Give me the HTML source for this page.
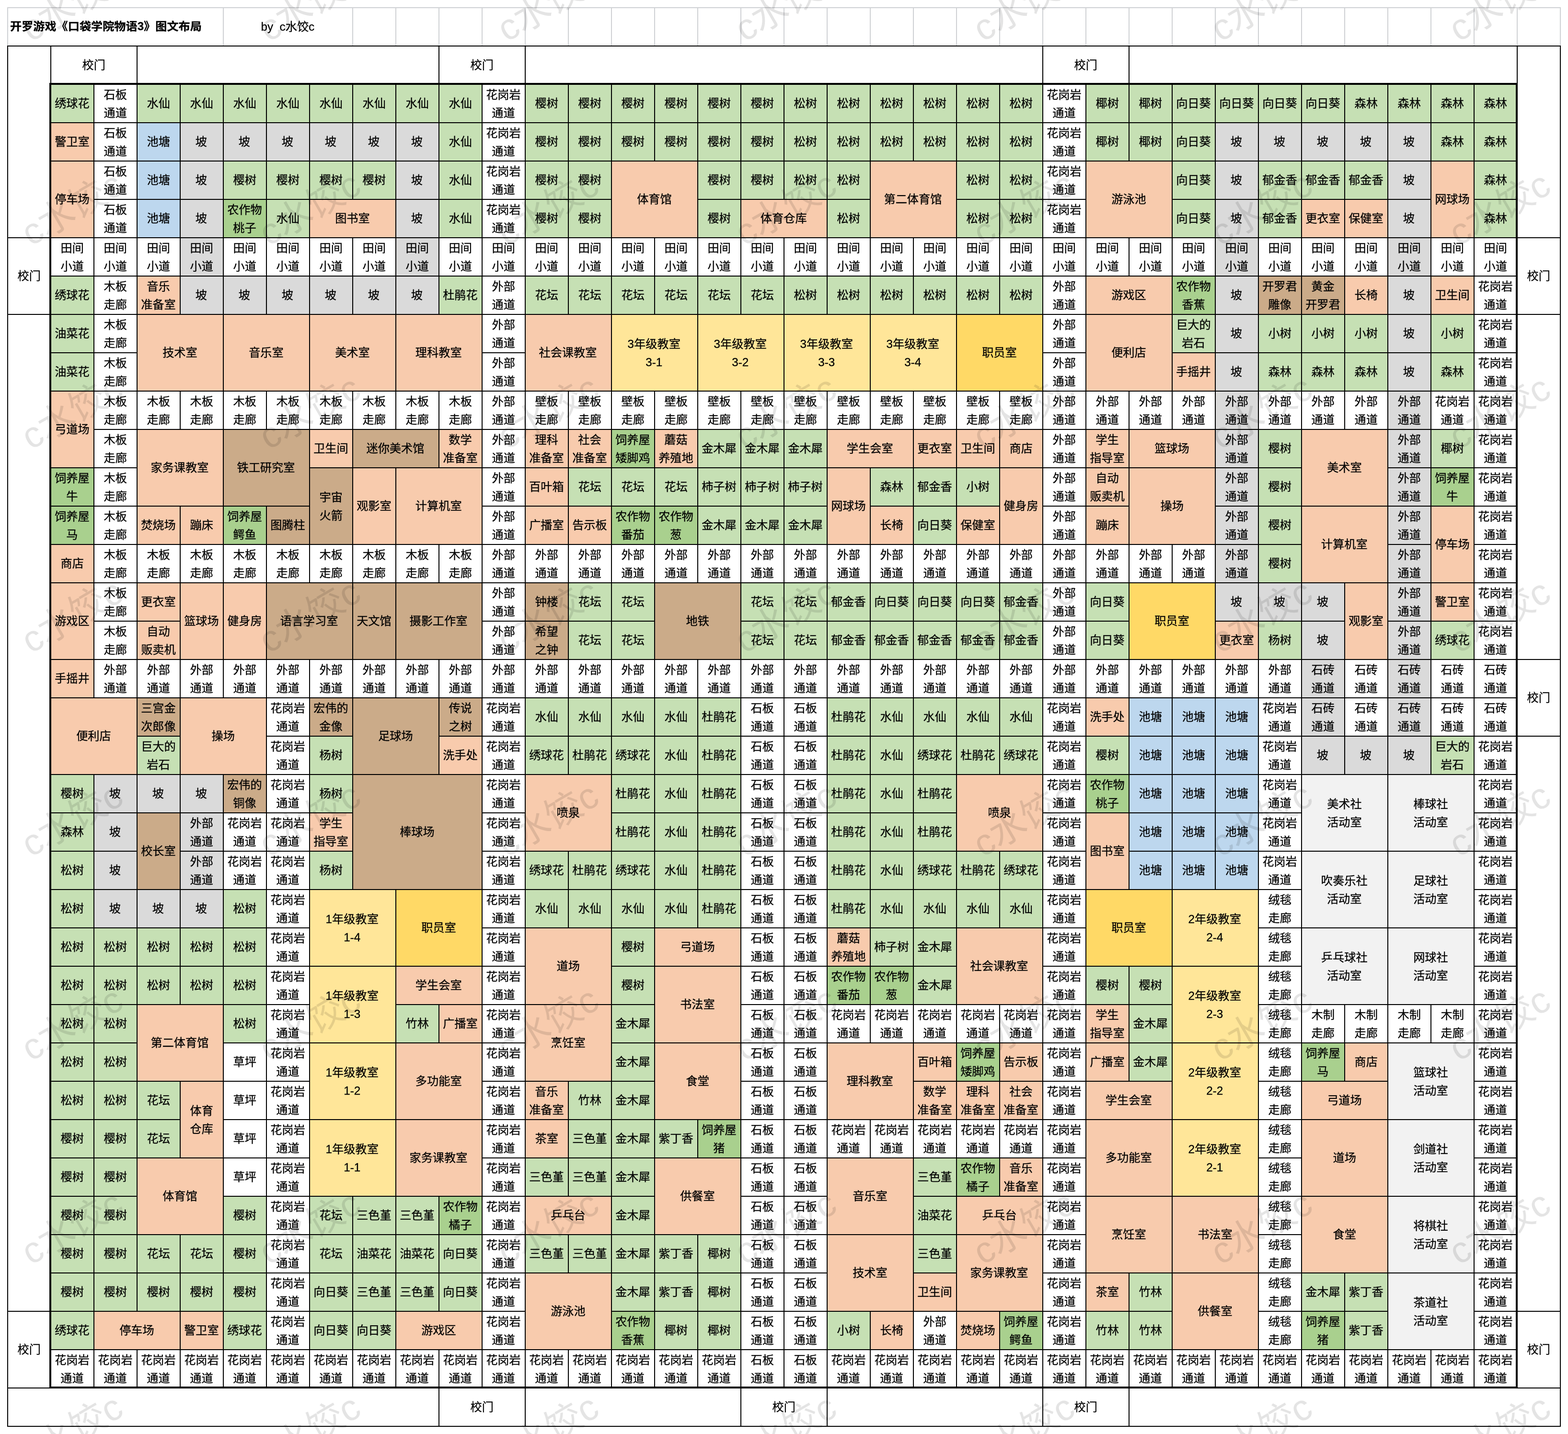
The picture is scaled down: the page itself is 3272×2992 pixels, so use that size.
<!DOCTYPE html>
<html lang="zh-CN"><head><meta charset="utf-8"><title>开罗游戏《口袋学院物语3》图文布局</title>
<style>
html,body{margin:0;padding:0;background:#fff}
body{width:3272px;height:2992px;position:relative;overflow:hidden;font-family:"Liberation Sans","Noto Sans CJK SC",sans-serif;font-size:23.5px;line-height:38.4px;color:#000;-webkit-text-stroke:0.3px #000}
#m{position:absolute;left:0;top:0;width:3272px;height:2992px;overflow:hidden}
.c{position:absolute;box-sizing:border-box;border:2px solid #000;width:92px;height:82px;display:flex;align-items:center;justify-content:center;text-align:center;white-space:nowrap;background:#fff}
.c span{display:block;transform:translate(-0.8px,-0.5px) scaleX(1.03)}
.c .m{transform:translate(-0.8px,1px) scaleX(1.03)}
.G{background:#c6e0b4}
.D{background:#a9d08e}
.O{background:#f8cbad}
.B{background:#bdd7ee}
.Y{background:#dadada}
.L{background:#ffe699}
.K{background:#ffd966}
.N{background:#cbab89}
.E{background:#f2f2f2}
.x0{left:15px}
.x1{left:105px}
.x2{left:195px}
.x3{left:285px}
.x4{left:375px}
.x5{left:465px}
.x6{left:555px}
.x7{left:645px}
.x8{left:735px}
.x9{left:825px}
.x10{left:915px}
.x11{left:1005px}
.x12{left:1095px}
.x13{left:1185px}
.x14{left:1275px}
.x15{left:1365px}
.x16{left:1455px}
.x17{left:1545px}
.x18{left:1635px}
.x19{left:1725px}
.x20{left:1815px}
.x21{left:1905px}
.x22{left:1995px}
.x23{left:2085px}
.x24{left:2175px}
.x25{left:2265px}
.x26{left:2355px}
.x27{left:2445px}
.x28{left:2535px}
.x29{left:2625px}
.x30{left:2715px}
.x31{left:2805px}
.x32{left:2895px}
.x33{left:2985px}
.x34{left:3075px}
.x35{left:3165px}
.y0{top:15px}
.y1{top:95px}
.y2{top:175px}
.y3{top:255px}
.y4{top:335px}
.y5{top:415px}
.y6{top:495px}
.y7{top:575px}
.y8{top:655px}
.y9{top:735px}
.y10{top:815px}
.y11{top:895px}
.y12{top:975px}
.y13{top:1055px}
.y14{top:1135px}
.y15{top:1215px}
.y16{top:1295px}
.y17{top:1375px}
.y18{top:1455px}
.y19{top:1535px}
.y20{top:1615px}
.y21{top:1695px}
.y22{top:1775px}
.y23{top:1855px}
.y24{top:1935px}
.y25{top:2015px}
.y26{top:2095px}
.y27{top:2175px}
.y28{top:2255px}
.y29{top:2335px}
.y30{top:2415px}
.y31{top:2495px}
.y32{top:2575px}
.y33{top:2655px}
.y34{top:2735px}
.y35{top:2815px}
.y36{top:2895px}
.w2{width:182px}
.w3{width:272px}
.w5{width:452px}
.w7{width:632px}
.w9{width:812px}
.w10{width:902px}
.w12{width:1082px}
.h2{height:162px}
.h3{height:242px}
.h5{height:402px}
.h9{height:722px}
.h15{height:1202px}
.h26{height:2082px}
.t{border-color:#cfd1d4}
.tt{justify-content:flex-start;font-weight:bold;padding-left:4px;font-size:23px}
.tt span{transform-origin:0 50%;transform:translate(0,-1.5px) scaleX(1.05)}
.f{position:absolute;box-sizing:border-box;border:4px solid #000;left:103px;top:173px;width:3064px;height:2724px;pointer-events:none}
.wm{position:absolute;width:400px;height:120px;margin:-60px 0 0 -200px;line-height:120px;text-align:center;font-size:76px;color:rgba(0,0,0,0.105);-webkit-text-stroke:0;transform:rotate(-30deg);white-space:nowrap;pointer-events:none}
</style></head>
<body>
<div id="m">
<div class="c t tt x0 y0 w5"><span>开罗游戏《口袋学院物语3》图文布局</span></div>
<div class="c t x5 y0 w3"><span>by&nbsp; c水饺c</span></div>
<div class="c t x8 y0"></div>
<div class="c t x9 y0"></div>
<div class="c t x10 y0"></div>
<div class="c t x11 y0"></div>
<div class="c t x12 y0"></div>
<div class="c t x13 y0"></div>
<div class="c t x14 y0"></div>
<div class="c t x15 y0"></div>
<div class="c t x16 y0"></div>
<div class="c t x17 y0"></div>
<div class="c t x18 y0"></div>
<div class="c t x19 y0"></div>
<div class="c t x20 y0"></div>
<div class="c t x21 y0"></div>
<div class="c t x22 y0"></div>
<div class="c t x23 y0"></div>
<div class="c t x24 y0"></div>
<div class="c t x25 y0"></div>
<div class="c t x26 y0"></div>
<div class="c t x27 y0"></div>
<div class="c t x28 y0"></div>
<div class="c t x29 y0"></div>
<div class="c t x30 y0"></div>
<div class="c t x31 y0"></div>
<div class="c t x32 y0"></div>
<div class="c t x33 y0"></div>
<div class="c t x34 y0"></div>
<div class="c t x35 y0"></div>
<div class="c x0 y1 h5"></div>
<div class="c x0 y6 h2"><span>校门</span></div>
<div class="c x0 y8 h26"></div>
<div class="c x0 y34 h2"><span>校门</span></div>
<div class="c x35 y1 h5"></div>
<div class="c x35 y6 h2"><span>校门</span></div>
<div class="c x35 y8 h9"></div>
<div class="c x35 y17 h2"><span>校门</span></div>
<div class="c x35 y19 h15"></div>
<div class="c x35 y34 h2"><span>校门</span></div>
<div class="c x1 y1 w2"><span>校门</span></div>
<div class="c x3 y1 w7"></div>
<div class="c x10 y1 w2"><span>校门</span></div>
<div class="c x12 y1 w12"></div>
<div class="c x24 y1 w2"><span>校门</span></div>
<div class="c x26 y1 w9"></div>
<div class="c x0 y36 w10"></div>
<div class="c x10 y36 w2"><span>校门</span></div>
<div class="c x12 y36 w5"></div>
<div class="c x17 y36 w2"><span>校门</span></div>
<div class="c x19 y36 w5"></div>
<div class="c x24 y36 w2"><span>校门</span></div>
<div class="c x26 y36 w10"></div>
<div class="c G x1 y2"><span>绣球花</span></div>
<div class="c x2 y2"><span class="m">石板<br>通道</span></div>
<div class="c G x3 y2"><span>水仙</span></div>
<div class="c G x4 y2"><span>水仙</span></div>
<div class="c G x5 y2"><span>水仙</span></div>
<div class="c G x6 y2"><span>水仙</span></div>
<div class="c G x7 y2"><span>水仙</span></div>
<div class="c G x8 y2"><span>水仙</span></div>
<div class="c G x9 y2"><span>水仙</span></div>
<div class="c G x10 y2"><span>水仙</span></div>
<div class="c x11 y2"><span class="m">花岗岩<br>通道</span></div>
<div class="c G x12 y2"><span>樱树</span></div>
<div class="c G x13 y2"><span>樱树</span></div>
<div class="c G x14 y2"><span>樱树</span></div>
<div class="c G x15 y2"><span>樱树</span></div>
<div class="c G x16 y2"><span>樱树</span></div>
<div class="c G x17 y2"><span>樱树</span></div>
<div class="c G x18 y2"><span>松树</span></div>
<div class="c G x19 y2"><span>松树</span></div>
<div class="c G x20 y2"><span>松树</span></div>
<div class="c G x21 y2"><span>松树</span></div>
<div class="c G x22 y2"><span>松树</span></div>
<div class="c G x23 y2"><span>松树</span></div>
<div class="c x24 y2"><span class="m">花岗岩<br>通道</span></div>
<div class="c G x25 y2"><span>椰树</span></div>
<div class="c G x26 y2"><span>椰树</span></div>
<div class="c G x27 y2"><span>向日葵</span></div>
<div class="c G x28 y2"><span>向日葵</span></div>
<div class="c G x29 y2"><span>向日葵</span></div>
<div class="c G x30 y2"><span>向日葵</span></div>
<div class="c G x31 y2"><span>森林</span></div>
<div class="c G x32 y2"><span>森林</span></div>
<div class="c G x33 y2"><span>森林</span></div>
<div class="c G x34 y2"><span>森林</span></div>
<div class="c O x1 y3"><span>警卫室</span></div>
<div class="c x2 y3"><span class="m">石板<br>通道</span></div>
<div class="c B x3 y3"><span>池塘</span></div>
<div class="c Y x4 y3"><span>坡</span></div>
<div class="c Y x5 y3"><span>坡</span></div>
<div class="c Y x6 y3"><span>坡</span></div>
<div class="c Y x7 y3"><span>坡</span></div>
<div class="c Y x8 y3"><span>坡</span></div>
<div class="c Y x9 y3"><span>坡</span></div>
<div class="c G x10 y3"><span>水仙</span></div>
<div class="c x11 y3"><span class="m">花岗岩<br>通道</span></div>
<div class="c G x12 y3"><span>樱树</span></div>
<div class="c G x13 y3"><span>樱树</span></div>
<div class="c G x14 y3"><span>樱树</span></div>
<div class="c G x15 y3"><span>樱树</span></div>
<div class="c G x16 y3"><span>樱树</span></div>
<div class="c G x17 y3"><span>樱树</span></div>
<div class="c G x18 y3"><span>松树</span></div>
<div class="c G x19 y3"><span>松树</span></div>
<div class="c G x20 y3"><span>松树</span></div>
<div class="c G x21 y3"><span>松树</span></div>
<div class="c G x22 y3"><span>松树</span></div>
<div class="c G x23 y3"><span>松树</span></div>
<div class="c x24 y3"><span class="m">花岗岩<br>通道</span></div>
<div class="c G x25 y3"><span>椰树</span></div>
<div class="c G x26 y3"><span>椰树</span></div>
<div class="c G x27 y3"><span>向日葵</span></div>
<div class="c Y x28 y3"><span>坡</span></div>
<div class="c Y x29 y3"><span>坡</span></div>
<div class="c Y x30 y3"><span>坡</span></div>
<div class="c Y x31 y3"><span>坡</span></div>
<div class="c Y x32 y3"><span>坡</span></div>
<div class="c G x33 y3"><span>森林</span></div>
<div class="c G x34 y3"><span>森林</span></div>
<div class="c O x1 y4 h2"><span>停车场</span></div>
<div class="c x2 y4"><span class="m">石板<br>通道</span></div>
<div class="c B x3 y4"><span>池塘</span></div>
<div class="c Y x4 y4"><span>坡</span></div>
<div class="c G x5 y4"><span>樱树</span></div>
<div class="c G x6 y4"><span>樱树</span></div>
<div class="c G x7 y4"><span>樱树</span></div>
<div class="c G x8 y4"><span>樱树</span></div>
<div class="c Y x9 y4"><span>坡</span></div>
<div class="c G x10 y4"><span>水仙</span></div>
<div class="c x11 y4"><span class="m">花岗岩<br>通道</span></div>
<div class="c G x12 y4"><span>樱树</span></div>
<div class="c G x13 y4"><span>樱树</span></div>
<div class="c O x14 y4 w2 h2"><span>体育馆</span></div>
<div class="c G x16 y4"><span>樱树</span></div>
<div class="c G x17 y4"><span>樱树</span></div>
<div class="c G x18 y4"><span>松树</span></div>
<div class="c G x19 y4"><span>松树</span></div>
<div class="c O x20 y4 w2 h2"><span>第二体育馆</span></div>
<div class="c G x22 y4"><span>松树</span></div>
<div class="c G x23 y4"><span>松树</span></div>
<div class="c x24 y4"><span class="m">花岗岩<br>通道</span></div>
<div class="c O x25 y4 w2 h2"><span>游泳池</span></div>
<div class="c G x27 y4"><span>向日葵</span></div>
<div class="c Y x28 y4"><span>坡</span></div>
<div class="c G x29 y4"><span>郁金香</span></div>
<div class="c G x30 y4"><span>郁金香</span></div>
<div class="c G x31 y4"><span>郁金香</span></div>
<div class="c Y x32 y4"><span>坡</span></div>
<div class="c O x33 y4 h2"><span>网球场</span></div>
<div class="c G x34 y4"><span>森林</span></div>
<div class="c x2 y5"><span class="m">石板<br>通道</span></div>
<div class="c B x3 y5"><span>池塘</span></div>
<div class="c Y x4 y5"><span>坡</span></div>
<div class="c D x5 y5"><span class="m">农作物<br>桃子</span></div>
<div class="c G x6 y5"><span>水仙</span></div>
<div class="c O x7 y5 w2"><span>图书室</span></div>
<div class="c Y x9 y5"><span>坡</span></div>
<div class="c G x10 y5"><span>水仙</span></div>
<div class="c x11 y5"><span class="m">花岗岩<br>通道</span></div>
<div class="c G x12 y5"><span>樱树</span></div>
<div class="c G x13 y5"><span>樱树</span></div>
<div class="c G x16 y5"><span>樱树</span></div>
<div class="c O x17 y5 w2"><span>体育仓库</span></div>
<div class="c G x19 y5"><span>松树</span></div>
<div class="c G x22 y5"><span>松树</span></div>
<div class="c G x23 y5"><span>松树</span></div>
<div class="c x24 y5"><span class="m">花岗岩<br>通道</span></div>
<div class="c G x27 y5"><span>向日葵</span></div>
<div class="c Y x28 y5"><span>坡</span></div>
<div class="c G x29 y5"><span>郁金香</span></div>
<div class="c O x30 y5"><span>更衣室</span></div>
<div class="c O x31 y5"><span>保健室</span></div>
<div class="c Y x32 y5"><span>坡</span></div>
<div class="c G x34 y5"><span>森林</span></div>
<div class="c x1 y6"><span class="m">田间<br>小道</span></div>
<div class="c x2 y6"><span class="m">田间<br>小道</span></div>
<div class="c x3 y6"><span class="m">田间<br>小道</span></div>
<div class="c Y x4 y6"><span class="m">田间<br>小道</span></div>
<div class="c x5 y6"><span class="m">田间<br>小道</span></div>
<div class="c x6 y6"><span class="m">田间<br>小道</span></div>
<div class="c x7 y6"><span class="m">田间<br>小道</span></div>
<div class="c x8 y6"><span class="m">田间<br>小道</span></div>
<div class="c Y x9 y6"><span class="m">田间<br>小道</span></div>
<div class="c x10 y6"><span class="m">田间<br>小道</span></div>
<div class="c x11 y6"><span class="m">田间<br>小道</span></div>
<div class="c x12 y6"><span class="m">田间<br>小道</span></div>
<div class="c x13 y6"><span class="m">田间<br>小道</span></div>
<div class="c x14 y6"><span class="m">田间<br>小道</span></div>
<div class="c x15 y6"><span class="m">田间<br>小道</span></div>
<div class="c x16 y6"><span class="m">田间<br>小道</span></div>
<div class="c x17 y6"><span class="m">田间<br>小道</span></div>
<div class="c x18 y6"><span class="m">田间<br>小道</span></div>
<div class="c x19 y6"><span class="m">田间<br>小道</span></div>
<div class="c x20 y6"><span class="m">田间<br>小道</span></div>
<div class="c x21 y6"><span class="m">田间<br>小道</span></div>
<div class="c x22 y6"><span class="m">田间<br>小道</span></div>
<div class="c x23 y6"><span class="m">田间<br>小道</span></div>
<div class="c x24 y6"><span class="m">田间<br>小道</span></div>
<div class="c x25 y6"><span class="m">田间<br>小道</span></div>
<div class="c x26 y6"><span class="m">田间<br>小道</span></div>
<div class="c x27 y6"><span class="m">田间<br>小道</span></div>
<div class="c Y x28 y6"><span class="m">田间<br>小道</span></div>
<div class="c x29 y6"><span class="m">田间<br>小道</span></div>
<div class="c x30 y6"><span class="m">田间<br>小道</span></div>
<div class="c x31 y6"><span class="m">田间<br>小道</span></div>
<div class="c Y x32 y6"><span class="m">田间<br>小道</span></div>
<div class="c x33 y6"><span class="m">田间<br>小道</span></div>
<div class="c x34 y6"><span class="m">田间<br>小道</span></div>
<div class="c G x1 y7"><span>绣球花</span></div>
<div class="c x2 y7"><span class="m">木板<br>走廊</span></div>
<div class="c O x3 y7"><span class="m">音乐<br>准备室</span></div>
<div class="c Y x4 y7"><span>坡</span></div>
<div class="c Y x5 y7"><span>坡</span></div>
<div class="c Y x6 y7"><span>坡</span></div>
<div class="c Y x7 y7"><span>坡</span></div>
<div class="c Y x8 y7"><span>坡</span></div>
<div class="c Y x9 y7"><span>坡</span></div>
<div class="c G x10 y7"><span>杜鹃花</span></div>
<div class="c x11 y7"><span class="m">外部<br>通道</span></div>
<div class="c G x12 y7"><span>花坛</span></div>
<div class="c G x13 y7"><span>花坛</span></div>
<div class="c G x14 y7"><span>花坛</span></div>
<div class="c G x15 y7"><span>花坛</span></div>
<div class="c G x16 y7"><span>花坛</span></div>
<div class="c G x17 y7"><span>花坛</span></div>
<div class="c G x18 y7"><span>松树</span></div>
<div class="c G x19 y7"><span>松树</span></div>
<div class="c G x20 y7"><span>松树</span></div>
<div class="c G x21 y7"><span>松树</span></div>
<div class="c G x22 y7"><span>松树</span></div>
<div class="c G x23 y7"><span>松树</span></div>
<div class="c x24 y7"><span class="m">外部<br>通道</span></div>
<div class="c O x25 y7 w2"><span>游戏区</span></div>
<div class="c D x27 y7"><span class="m">农作物<br>香蕉</span></div>
<div class="c Y x28 y7"><span>坡</span></div>
<div class="c N x29 y7"><span class="m">开罗君<br>雕像</span></div>
<div class="c N x30 y7"><span class="m">黄金<br>开罗君</span></div>
<div class="c O x31 y7"><span>长椅</span></div>
<div class="c Y x32 y7"><span>坡</span></div>
<div class="c O x33 y7"><span>卫生间</span></div>
<div class="c x34 y7"><span class="m">花岗岩<br>通道</span></div>
<div class="c G x1 y8"><span>油菜花</span></div>
<div class="c x2 y8"><span class="m">木板<br>走廊</span></div>
<div class="c O x3 y8 w2 h2"><span>技术室</span></div>
<div class="c O x5 y8 w2 h2"><span>音乐室</span></div>
<div class="c O x7 y8 w2 h2"><span>美术室</span></div>
<div class="c O x9 y8 w2 h2"><span>理科教室</span></div>
<div class="c x11 y8"><span class="m">外部<br>通道</span></div>
<div class="c O x12 y8 w2 h2"><span>社会课教室</span></div>
<div class="c L x14 y8 w2 h2"><span class="m">3年级教室<br>3-1</span></div>
<div class="c L x16 y8 w2 h2"><span class="m">3年级教室<br>3-2</span></div>
<div class="c L x18 y8 w2 h2"><span class="m">3年级教室<br>3-3</span></div>
<div class="c L x20 y8 w2 h2"><span class="m">3年级教室<br>3-4</span></div>
<div class="c K x22 y8 w2 h2"><span>职员室</span></div>
<div class="c x24 y8"><span class="m">外部<br>通道</span></div>
<div class="c O x25 y8 w2 h2"><span>便利店</span></div>
<div class="c G x27 y8"><span class="m">巨大的<br>岩石</span></div>
<div class="c Y x28 y8"><span>坡</span></div>
<div class="c G x29 y8"><span>小树</span></div>
<div class="c G x30 y8"><span>小树</span></div>
<div class="c G x31 y8"><span>小树</span></div>
<div class="c Y x32 y8"><span>坡</span></div>
<div class="c G x33 y8"><span>小树</span></div>
<div class="c x34 y8"><span class="m">花岗岩<br>通道</span></div>
<div class="c G x1 y9"><span>油菜花</span></div>
<div class="c x2 y9"><span class="m">木板<br>走廊</span></div>
<div class="c x11 y9"><span class="m">外部<br>通道</span></div>
<div class="c x24 y9"><span class="m">外部<br>通道</span></div>
<div class="c O x27 y9"><span>手摇井</span></div>
<div class="c Y x28 y9"><span>坡</span></div>
<div class="c G x29 y9"><span>森林</span></div>
<div class="c G x30 y9"><span>森林</span></div>
<div class="c G x31 y9"><span>森林</span></div>
<div class="c Y x32 y9"><span>坡</span></div>
<div class="c G x33 y9"><span>森林</span></div>
<div class="c x34 y9"><span class="m">花岗岩<br>通道</span></div>
<div class="c O x1 y10 h2"><span>弓道场</span></div>
<div class="c x2 y10"><span class="m">木板<br>走廊</span></div>
<div class="c x3 y10"><span class="m">木板<br>走廊</span></div>
<div class="c x4 y10"><span class="m">木板<br>走廊</span></div>
<div class="c x5 y10"><span class="m">木板<br>走廊</span></div>
<div class="c x6 y10"><span class="m">木板<br>走廊</span></div>
<div class="c x7 y10"><span class="m">木板<br>走廊</span></div>
<div class="c x8 y10"><span class="m">木板<br>走廊</span></div>
<div class="c x9 y10"><span class="m">木板<br>走廊</span></div>
<div class="c x10 y10"><span class="m">木板<br>走廊</span></div>
<div class="c x11 y10"><span class="m">外部<br>通道</span></div>
<div class="c x12 y10"><span class="m">壁板<br>走廊</span></div>
<div class="c x13 y10"><span class="m">壁板<br>走廊</span></div>
<div class="c x14 y10"><span class="m">壁板<br>走廊</span></div>
<div class="c x15 y10"><span class="m">壁板<br>走廊</span></div>
<div class="c x16 y10"><span class="m">壁板<br>走廊</span></div>
<div class="c x17 y10"><span class="m">壁板<br>走廊</span></div>
<div class="c x18 y10"><span class="m">壁板<br>走廊</span></div>
<div class="c x19 y10"><span class="m">壁板<br>走廊</span></div>
<div class="c x20 y10"><span class="m">壁板<br>走廊</span></div>
<div class="c x21 y10"><span class="m">壁板<br>走廊</span></div>
<div class="c x22 y10"><span class="m">壁板<br>走廊</span></div>
<div class="c x23 y10"><span class="m">壁板<br>走廊</span></div>
<div class="c x24 y10"><span class="m">外部<br>通道</span></div>
<div class="c x25 y10"><span class="m">外部<br>通道</span></div>
<div class="c x26 y10"><span class="m">外部<br>通道</span></div>
<div class="c x27 y10"><span class="m">外部<br>通道</span></div>
<div class="c Y x28 y10"><span class="m">外部<br>通道</span></div>
<div class="c x29 y10"><span class="m">外部<br>通道</span></div>
<div class="c x30 y10"><span class="m">外部<br>通道</span></div>
<div class="c x31 y10"><span class="m">外部<br>通道</span></div>
<div class="c Y x32 y10"><span class="m">外部<br>通道</span></div>
<div class="c x33 y10"><span class="m">花岗岩<br>通道</span></div>
<div class="c x34 y10"><span class="m">花岗岩<br>通道</span></div>
<div class="c x2 y11"><span class="m">木板<br>走廊</span></div>
<div class="c O x3 y11 w2 h2"><span>家务课教室</span></div>
<div class="c N x5 y11 w2 h2"><span>铁工研究室</span></div>
<div class="c O x7 y11"><span>卫生间</span></div>
<div class="c N x8 y11 w2"><span>迷你美术馆</span></div>
<div class="c O x10 y11"><span class="m">数学<br>准备室</span></div>
<div class="c x11 y11"><span class="m">外部<br>通道</span></div>
<div class="c O x12 y11"><span class="m">理科<br>准备室</span></div>
<div class="c O x13 y11"><span class="m">社会<br>准备室</span></div>
<div class="c D x14 y11"><span class="m">饲养屋<br>矮脚鸡</span></div>
<div class="c O x15 y11"><span class="m">蘑菇<br>养殖地</span></div>
<div class="c G x16 y11"><span>金木犀</span></div>
<div class="c G x17 y11"><span>金木犀</span></div>
<div class="c G x18 y11"><span>金木犀</span></div>
<div class="c O x19 y11 w2"><span>学生会室</span></div>
<div class="c O x21 y11"><span>更衣室</span></div>
<div class="c O x22 y11"><span>卫生间</span></div>
<div class="c O x23 y11"><span>商店</span></div>
<div class="c x24 y11"><span class="m">外部<br>通道</span></div>
<div class="c O x25 y11"><span class="m">学生<br>指导室</span></div>
<div class="c O x26 y11 w2"><span>篮球场</span></div>
<div class="c Y x28 y11"><span class="m">外部<br>通道</span></div>
<div class="c G x29 y11"><span>樱树</span></div>
<div class="c O x30 y11 w2 h2"><span>美术室</span></div>
<div class="c Y x32 y11"><span class="m">外部<br>通道</span></div>
<div class="c G x33 y11"><span>椰树</span></div>
<div class="c x34 y11"><span class="m">花岗岩<br>通道</span></div>
<div class="c D x1 y12"><span class="m">饲养屋<br>牛</span></div>
<div class="c x2 y12"><span class="m">木板<br>走廊</span></div>
<div class="c N x7 y12 h2"><span class="m">宇宙<br>火箭</span></div>
<div class="c O x8 y12 h2"><span>观影室</span></div>
<div class="c O x9 y12 w2 h2"><span>计算机室</span></div>
<div class="c x11 y12"><span class="m">外部<br>通道</span></div>
<div class="c O x12 y12"><span>百叶箱</span></div>
<div class="c G x13 y12"><span>花坛</span></div>
<div class="c G x14 y12"><span>花坛</span></div>
<div class="c G x15 y12"><span>花坛</span></div>
<div class="c G x16 y12"><span>柿子树</span></div>
<div class="c G x17 y12"><span>柿子树</span></div>
<div class="c G x18 y12"><span>柿子树</span></div>
<div class="c O x19 y12 h2"><span>网球场</span></div>
<div class="c G x20 y12"><span>森林</span></div>
<div class="c G x21 y12"><span>郁金香</span></div>
<div class="c G x22 y12"><span>小树</span></div>
<div class="c O x23 y12 h2"><span>健身房</span></div>
<div class="c x24 y12"><span class="m">外部<br>通道</span></div>
<div class="c O x25 y12"><span class="m">自动<br>贩卖机</span></div>
<div class="c O x26 y12 w2 h2"><span>操场</span></div>
<div class="c Y x28 y12"><span class="m">外部<br>通道</span></div>
<div class="c G x29 y12"><span>樱树</span></div>
<div class="c Y x32 y12"><span class="m">外部<br>通道</span></div>
<div class="c D x33 y12"><span class="m">饲养屋<br>牛</span></div>
<div class="c x34 y12"><span class="m">花岗岩<br>通道</span></div>
<div class="c D x1 y13"><span class="m">饲养屋<br>马</span></div>
<div class="c x2 y13"><span class="m">木板<br>走廊</span></div>
<div class="c O x3 y13"><span>焚烧场</span></div>
<div class="c O x4 y13"><span>蹦床</span></div>
<div class="c D x5 y13"><span class="m">饲养屋<br>鳄鱼</span></div>
<div class="c N x6 y13"><span>图腾柱</span></div>
<div class="c x11 y13"><span class="m">外部<br>通道</span></div>
<div class="c O x12 y13"><span>广播室</span></div>
<div class="c O x13 y13"><span>告示板</span></div>
<div class="c D x14 y13"><span class="m">农作物<br>番茄</span></div>
<div class="c D x15 y13"><span class="m">农作物<br>葱</span></div>
<div class="c G x16 y13"><span>金木犀</span></div>
<div class="c G x17 y13"><span>金木犀</span></div>
<div class="c G x18 y13"><span>金木犀</span></div>
<div class="c O x20 y13"><span>长椅</span></div>
<div class="c G x21 y13"><span>向日葵</span></div>
<div class="c O x22 y13"><span>保健室</span></div>
<div class="c x24 y13"><span class="m">外部<br>通道</span></div>
<div class="c O x25 y13"><span>蹦床</span></div>
<div class="c Y x28 y13"><span class="m">外部<br>通道</span></div>
<div class="c G x29 y13"><span>樱树</span></div>
<div class="c O x30 y13 w2 h2"><span>计算机室</span></div>
<div class="c Y x32 y13"><span class="m">外部<br>通道</span></div>
<div class="c O x33 y13 h2"><span>停车场</span></div>
<div class="c x34 y13"><span class="m">花岗岩<br>通道</span></div>
<div class="c O x1 y14"><span>商店</span></div>
<div class="c x2 y14"><span class="m">木板<br>走廊</span></div>
<div class="c x3 y14"><span class="m">木板<br>走廊</span></div>
<div class="c x4 y14"><span class="m">木板<br>走廊</span></div>
<div class="c x5 y14"><span class="m">木板<br>走廊</span></div>
<div class="c x6 y14"><span class="m">木板<br>走廊</span></div>
<div class="c x7 y14"><span class="m">木板<br>走廊</span></div>
<div class="c x8 y14"><span class="m">木板<br>走廊</span></div>
<div class="c x9 y14"><span class="m">木板<br>走廊</span></div>
<div class="c x10 y14"><span class="m">木板<br>走廊</span></div>
<div class="c x11 y14"><span class="m">外部<br>通道</span></div>
<div class="c x12 y14"><span class="m">外部<br>通道</span></div>
<div class="c x13 y14"><span class="m">外部<br>通道</span></div>
<div class="c x14 y14"><span class="m">外部<br>通道</span></div>
<div class="c x15 y14"><span class="m">外部<br>通道</span></div>
<div class="c x16 y14"><span class="m">外部<br>通道</span></div>
<div class="c x17 y14"><span class="m">外部<br>通道</span></div>
<div class="c x18 y14"><span class="m">外部<br>通道</span></div>
<div class="c x19 y14"><span class="m">外部<br>通道</span></div>
<div class="c x20 y14"><span class="m">外部<br>通道</span></div>
<div class="c x21 y14"><span class="m">外部<br>通道</span></div>
<div class="c x22 y14"><span class="m">外部<br>通道</span></div>
<div class="c x23 y14"><span class="m">外部<br>通道</span></div>
<div class="c x24 y14"><span class="m">外部<br>通道</span></div>
<div class="c x25 y14"><span class="m">外部<br>通道</span></div>
<div class="c x26 y14"><span class="m">外部<br>通道</span></div>
<div class="c x27 y14"><span class="m">外部<br>通道</span></div>
<div class="c Y x28 y14"><span class="m">外部<br>通道</span></div>
<div class="c G x29 y14"><span>樱树</span></div>
<div class="c Y x32 y14"><span class="m">外部<br>通道</span></div>
<div class="c x34 y14"><span class="m">花岗岩<br>通道</span></div>
<div class="c O x1 y15 h2"><span>游戏区</span></div>
<div class="c x2 y15"><span class="m">木板<br>走廊</span></div>
<div class="c O x3 y15"><span>更衣室</span></div>
<div class="c O x4 y15 h2"><span>篮球场</span></div>
<div class="c O x5 y15 h2"><span>健身房</span></div>
<div class="c N x6 y15 w2 h2"><span>语言学习室</span></div>
<div class="c N x8 y15 h2"><span>天文馆</span></div>
<div class="c N x9 y15 w2 h2"><span>摄影工作室</span></div>
<div class="c x11 y15"><span class="m">外部<br>通道</span></div>
<div class="c N x12 y15"><span>钟楼</span></div>
<div class="c G x13 y15"><span>花坛</span></div>
<div class="c G x14 y15"><span>花坛</span></div>
<div class="c N x15 y15 w2 h2"><span>地铁</span></div>
<div class="c G x17 y15"><span>花坛</span></div>
<div class="c G x18 y15"><span>花坛</span></div>
<div class="c G x19 y15"><span>郁金香</span></div>
<div class="c G x20 y15"><span>向日葵</span></div>
<div class="c G x21 y15"><span>向日葵</span></div>
<div class="c G x22 y15"><span>向日葵</span></div>
<div class="c G x23 y15"><span>郁金香</span></div>
<div class="c x24 y15"><span class="m">外部<br>通道</span></div>
<div class="c G x25 y15"><span>向日葵</span></div>
<div class="c K x26 y15 w2 h2"><span>职员室</span></div>
<div class="c Y x28 y15"><span>坡</span></div>
<div class="c Y x29 y15"><span>坡</span></div>
<div class="c Y x30 y15"><span>坡</span></div>
<div class="c O x31 y15 h2"><span>观影室</span></div>
<div class="c Y x32 y15"><span class="m">外部<br>通道</span></div>
<div class="c O x33 y15"><span>警卫室</span></div>
<div class="c x34 y15"><span class="m">花岗岩<br>通道</span></div>
<div class="c x2 y16"><span class="m">木板<br>走廊</span></div>
<div class="c O x3 y16"><span class="m">自动<br>贩卖机</span></div>
<div class="c x11 y16"><span class="m">外部<br>通道</span></div>
<div class="c N x12 y16"><span class="m">希望<br>之钟</span></div>
<div class="c G x13 y16"><span>花坛</span></div>
<div class="c G x14 y16"><span>花坛</span></div>
<div class="c G x17 y16"><span>花坛</span></div>
<div class="c G x18 y16"><span>花坛</span></div>
<div class="c G x19 y16"><span>郁金香</span></div>
<div class="c G x20 y16"><span>郁金香</span></div>
<div class="c G x21 y16"><span>郁金香</span></div>
<div class="c G x22 y16"><span>郁金香</span></div>
<div class="c G x23 y16"><span>郁金香</span></div>
<div class="c x24 y16"><span class="m">外部<br>通道</span></div>
<div class="c G x25 y16"><span>向日葵</span></div>
<div class="c O x28 y16"><span>更衣室</span></div>
<div class="c G x29 y16"><span>杨树</span></div>
<div class="c Y x30 y16"><span>坡</span></div>
<div class="c Y x32 y16"><span class="m">外部<br>通道</span></div>
<div class="c G x33 y16"><span>绣球花</span></div>
<div class="c x34 y16"><span class="m">花岗岩<br>通道</span></div>
<div class="c O x1 y17"><span>手摇井</span></div>
<div class="c x2 y17"><span class="m">外部<br>通道</span></div>
<div class="c x3 y17"><span class="m">外部<br>通道</span></div>
<div class="c x4 y17"><span class="m">外部<br>通道</span></div>
<div class="c x5 y17"><span class="m">外部<br>通道</span></div>
<div class="c x6 y17"><span class="m">外部<br>通道</span></div>
<div class="c x7 y17"><span class="m">外部<br>通道</span></div>
<div class="c x8 y17"><span class="m">外部<br>通道</span></div>
<div class="c x9 y17"><span class="m">外部<br>通道</span></div>
<div class="c x10 y17"><span class="m">外部<br>通道</span></div>
<div class="c x11 y17"><span class="m">外部<br>通道</span></div>
<div class="c x12 y17"><span class="m">外部<br>通道</span></div>
<div class="c x13 y17"><span class="m">外部<br>通道</span></div>
<div class="c x14 y17"><span class="m">外部<br>通道</span></div>
<div class="c x15 y17"><span class="m">外部<br>通道</span></div>
<div class="c x16 y17"><span class="m">外部<br>通道</span></div>
<div class="c x17 y17"><span class="m">外部<br>通道</span></div>
<div class="c x18 y17"><span class="m">外部<br>通道</span></div>
<div class="c x19 y17"><span class="m">外部<br>通道</span></div>
<div class="c x20 y17"><span class="m">外部<br>通道</span></div>
<div class="c x21 y17"><span class="m">外部<br>通道</span></div>
<div class="c x22 y17"><span class="m">外部<br>通道</span></div>
<div class="c x23 y17"><span class="m">外部<br>通道</span></div>
<div class="c x24 y17"><span class="m">外部<br>通道</span></div>
<div class="c x25 y17"><span class="m">外部<br>通道</span></div>
<div class="c x26 y17"><span class="m">外部<br>通道</span></div>
<div class="c x27 y17"><span class="m">外部<br>通道</span></div>
<div class="c x28 y17"><span class="m">外部<br>通道</span></div>
<div class="c x29 y17"><span class="m">外部<br>通道</span></div>
<div class="c Y x30 y17"><span class="m">石砖<br>通道</span></div>
<div class="c x31 y17"><span class="m">石砖<br>通道</span></div>
<div class="c Y x32 y17"><span class="m">石砖<br>通道</span></div>
<div class="c x33 y17"><span class="m">石砖<br>通道</span></div>
<div class="c x34 y17"><span class="m">石砖<br>通道</span></div>
<div class="c O x1 y18 w2 h2"><span>便利店</span></div>
<div class="c N x3 y18"><span class="m">三宫金<br>次郎像</span></div>
<div class="c O x4 y18 w2 h2"><span>操场</span></div>
<div class="c x6 y18"><span class="m">花岗岩<br>通道</span></div>
<div class="c N x7 y18"><span class="m">宏伟的<br>金像</span></div>
<div class="c N x8 y18 w2 h2"><span>足球场</span></div>
<div class="c N x10 y18"><span class="m">传说<br>之树</span></div>
<div class="c x11 y18"><span class="m">花岗岩<br>通道</span></div>
<div class="c G x12 y18"><span>水仙</span></div>
<div class="c G x13 y18"><span>水仙</span></div>
<div class="c G x14 y18"><span>水仙</span></div>
<div class="c G x15 y18"><span>水仙</span></div>
<div class="c G x16 y18"><span>杜鹃花</span></div>
<div class="c x17 y18"><span class="m">石板<br>通道</span></div>
<div class="c x18 y18"><span class="m">石板<br>通道</span></div>
<div class="c G x19 y18"><span>杜鹃花</span></div>
<div class="c G x20 y18"><span>水仙</span></div>
<div class="c G x21 y18"><span>水仙</span></div>
<div class="c G x22 y18"><span>水仙</span></div>
<div class="c G x23 y18"><span>水仙</span></div>
<div class="c x24 y18"><span class="m">花岗岩<br>通道</span></div>
<div class="c O x25 y18"><span>洗手处</span></div>
<div class="c B x26 y18"><span>池塘</span></div>
<div class="c B x27 y18"><span>池塘</span></div>
<div class="c B x28 y18"><span>池塘</span></div>
<div class="c x29 y18"><span class="m">花岗岩<br>通道</span></div>
<div class="c Y x30 y18"><span class="m">石砖<br>通道</span></div>
<div class="c x31 y18"><span class="m">石砖<br>通道</span></div>
<div class="c Y x32 y18"><span class="m">石砖<br>通道</span></div>
<div class="c x33 y18"><span class="m">石砖<br>通道</span></div>
<div class="c x34 y18"><span class="m">石砖<br>通道</span></div>
<div class="c G x3 y19"><span class="m">巨大的<br>岩石</span></div>
<div class="c x6 y19"><span class="m">花岗岩<br>通道</span></div>
<div class="c G x7 y19"><span>杨树</span></div>
<div class="c O x10 y19"><span>洗手处</span></div>
<div class="c x11 y19"><span class="m">花岗岩<br>通道</span></div>
<div class="c G x12 y19"><span>绣球花</span></div>
<div class="c G x13 y19"><span>杜鹃花</span></div>
<div class="c G x14 y19"><span>绣球花</span></div>
<div class="c G x15 y19"><span>水仙</span></div>
<div class="c G x16 y19"><span>杜鹃花</span></div>
<div class="c x17 y19"><span class="m">石板<br>通道</span></div>
<div class="c x18 y19"><span class="m">石板<br>通道</span></div>
<div class="c G x19 y19"><span>杜鹃花</span></div>
<div class="c G x20 y19"><span>水仙</span></div>
<div class="c G x21 y19"><span>绣球花</span></div>
<div class="c G x22 y19"><span>杜鹃花</span></div>
<div class="c G x23 y19"><span>绣球花</span></div>
<div class="c x24 y19"><span class="m">花岗岩<br>通道</span></div>
<div class="c G x25 y19"><span>樱树</span></div>
<div class="c B x26 y19"><span>池塘</span></div>
<div class="c B x27 y19"><span>池塘</span></div>
<div class="c B x28 y19"><span>池塘</span></div>
<div class="c x29 y19"><span class="m">花岗岩<br>通道</span></div>
<div class="c Y x30 y19"><span>坡</span></div>
<div class="c Y x31 y19"><span>坡</span></div>
<div class="c Y x32 y19"><span>坡</span></div>
<div class="c G x33 y19"><span class="m">巨大的<br>岩石</span></div>
<div class="c x34 y19"><span class="m">花岗岩<br>通道</span></div>
<div class="c G x1 y20"><span>樱树</span></div>
<div class="c Y x2 y20"><span>坡</span></div>
<div class="c Y x3 y20"><span>坡</span></div>
<div class="c Y x4 y20"><span>坡</span></div>
<div class="c N x5 y20"><span class="m">宏伟的<br>铜像</span></div>
<div class="c x6 y20"><span class="m">花岗岩<br>通道</span></div>
<div class="c G x7 y20"><span>杨树</span></div>
<div class="c N x8 y20 w3 h3"><span>棒球场</span></div>
<div class="c x11 y20"><span class="m">花岗岩<br>通道</span></div>
<div class="c O x12 y20 w2 h2"><span>喷泉</span></div>
<div class="c G x14 y20"><span>杜鹃花</span></div>
<div class="c G x15 y20"><span>水仙</span></div>
<div class="c G x16 y20"><span>杜鹃花</span></div>
<div class="c x17 y20"><span class="m">石板<br>通道</span></div>
<div class="c x18 y20"><span class="m">石板<br>通道</span></div>
<div class="c G x19 y20"><span>杜鹃花</span></div>
<div class="c G x20 y20"><span>水仙</span></div>
<div class="c G x21 y20"><span>杜鹃花</span></div>
<div class="c O x22 y20 w2 h2"><span>喷泉</span></div>
<div class="c x24 y20"><span class="m">花岗岩<br>通道</span></div>
<div class="c D x25 y20"><span class="m">农作物<br>桃子</span></div>
<div class="c B x26 y20"><span>池塘</span></div>
<div class="c B x27 y20"><span>池塘</span></div>
<div class="c B x28 y20"><span>池塘</span></div>
<div class="c x29 y20"><span class="m">花岗岩<br>通道</span></div>
<div class="c E x30 y20 w2 h2"><span class="m">美术社<br>活动室</span></div>
<div class="c E x32 y20 w2 h2"><span class="m">棒球社<br>活动室</span></div>
<div class="c x34 y20"><span class="m">花岗岩<br>通道</span></div>
<div class="c G x1 y21"><span>森林</span></div>
<div class="c Y x2 y21"><span>坡</span></div>
<div class="c N x3 y21 h2"><span>校长室</span></div>
<div class="c Y x4 y21"><span class="m">外部<br>通道</span></div>
<div class="c x5 y21"><span class="m">花岗岩<br>通道</span></div>
<div class="c x6 y21"><span class="m">花岗岩<br>通道</span></div>
<div class="c O x7 y21"><span class="m">学生<br>指导室</span></div>
<div class="c x11 y21"><span class="m">花岗岩<br>通道</span></div>
<div class="c G x14 y21"><span>杜鹃花</span></div>
<div class="c G x15 y21"><span>水仙</span></div>
<div class="c G x16 y21"><span>杜鹃花</span></div>
<div class="c x17 y21"><span class="m">石板<br>通道</span></div>
<div class="c x18 y21"><span class="m">石板<br>通道</span></div>
<div class="c G x19 y21"><span>杜鹃花</span></div>
<div class="c G x20 y21"><span>水仙</span></div>
<div class="c G x21 y21"><span>杜鹃花</span></div>
<div class="c x24 y21"><span class="m">花岗岩<br>通道</span></div>
<div class="c O x25 y21 h2"><span>图书室</span></div>
<div class="c B x26 y21"><span>池塘</span></div>
<div class="c B x27 y21"><span>池塘</span></div>
<div class="c B x28 y21"><span>池塘</span></div>
<div class="c x29 y21"><span class="m">花岗岩<br>通道</span></div>
<div class="c x34 y21"><span class="m">花岗岩<br>通道</span></div>
<div class="c G x1 y22"><span>松树</span></div>
<div class="c Y x2 y22"><span>坡</span></div>
<div class="c Y x4 y22"><span class="m">外部<br>通道</span></div>
<div class="c x5 y22"><span class="m">花岗岩<br>通道</span></div>
<div class="c x6 y22"><span class="m">花岗岩<br>通道</span></div>
<div class="c G x7 y22"><span>杨树</span></div>
<div class="c x11 y22"><span class="m">花岗岩<br>通道</span></div>
<div class="c G x12 y22"><span>绣球花</span></div>
<div class="c G x13 y22"><span>杜鹃花</span></div>
<div class="c G x14 y22"><span>绣球花</span></div>
<div class="c G x15 y22"><span>水仙</span></div>
<div class="c G x16 y22"><span>杜鹃花</span></div>
<div class="c x17 y22"><span class="m">石板<br>通道</span></div>
<div class="c x18 y22"><span class="m">石板<br>通道</span></div>
<div class="c G x19 y22"><span>杜鹃花</span></div>
<div class="c G x20 y22"><span>水仙</span></div>
<div class="c G x21 y22"><span>绣球花</span></div>
<div class="c G x22 y22"><span>杜鹃花</span></div>
<div class="c G x23 y22"><span>绣球花</span></div>
<div class="c x24 y22"><span class="m">花岗岩<br>通道</span></div>
<div class="c B x26 y22"><span>池塘</span></div>
<div class="c B x27 y22"><span>池塘</span></div>
<div class="c B x28 y22"><span>池塘</span></div>
<div class="c x29 y22"><span class="m">花岗岩<br>通道</span></div>
<div class="c E x30 y22 w2 h2"><span class="m">吹奏乐社<br>活动室</span></div>
<div class="c E x32 y22 w2 h2"><span class="m">足球社<br>活动室</span></div>
<div class="c x34 y22"><span class="m">花岗岩<br>通道</span></div>
<div class="c G x1 y23"><span>松树</span></div>
<div class="c Y x2 y23"><span>坡</span></div>
<div class="c Y x3 y23"><span>坡</span></div>
<div class="c Y x4 y23"><span>坡</span></div>
<div class="c G x5 y23"><span>松树</span></div>
<div class="c x6 y23"><span class="m">花岗岩<br>通道</span></div>
<div class="c L x7 y23 w2 h2"><span class="m">1年级教室<br>1-4</span></div>
<div class="c K x9 y23 w2 h2"><span>职员室</span></div>
<div class="c x11 y23"><span class="m">花岗岩<br>通道</span></div>
<div class="c G x12 y23"><span>水仙</span></div>
<div class="c G x13 y23"><span>水仙</span></div>
<div class="c G x14 y23"><span>水仙</span></div>
<div class="c G x15 y23"><span>水仙</span></div>
<div class="c G x16 y23"><span>杜鹃花</span></div>
<div class="c x17 y23"><span class="m">石板<br>通道</span></div>
<div class="c x18 y23"><span class="m">石板<br>通道</span></div>
<div class="c G x19 y23"><span>杜鹃花</span></div>
<div class="c G x20 y23"><span>水仙</span></div>
<div class="c G x21 y23"><span>水仙</span></div>
<div class="c G x22 y23"><span>水仙</span></div>
<div class="c G x23 y23"><span>水仙</span></div>
<div class="c x24 y23"><span class="m">花岗岩<br>通道</span></div>
<div class="c K x25 y23 w2 h2"><span>职员室</span></div>
<div class="c L x27 y23 w2 h2"><span class="m">2年级教室<br>2-4</span></div>
<div class="c x29 y23"><span class="m">绒毯<br>走廊</span></div>
<div class="c x34 y23"><span class="m">花岗岩<br>通道</span></div>
<div class="c G x1 y24"><span>松树</span></div>
<div class="c G x2 y24"><span>松树</span></div>
<div class="c G x3 y24"><span>松树</span></div>
<div class="c G x4 y24"><span>松树</span></div>
<div class="c G x5 y24"><span>松树</span></div>
<div class="c x6 y24"><span class="m">花岗岩<br>通道</span></div>
<div class="c x11 y24"><span class="m">花岗岩<br>通道</span></div>
<div class="c O x12 y24 w2 h2"><span>道场</span></div>
<div class="c G x14 y24"><span>樱树</span></div>
<div class="c O x15 y24 w2"><span>弓道场</span></div>
<div class="c x17 y24"><span class="m">石板<br>通道</span></div>
<div class="c x18 y24"><span class="m">石板<br>通道</span></div>
<div class="c O x19 y24"><span class="m">蘑菇<br>养殖地</span></div>
<div class="c G x20 y24"><span>柿子树</span></div>
<div class="c G x21 y24"><span>金木犀</span></div>
<div class="c O x22 y24 w2 h2"><span>社会课教室</span></div>
<div class="c x24 y24"><span class="m">花岗岩<br>通道</span></div>
<div class="c x29 y24"><span class="m">绒毯<br>走廊</span></div>
<div class="c E x30 y24 w2 h2"><span class="m">乒乓球社<br>活动室</span></div>
<div class="c E x32 y24 w2 h2"><span class="m">网球社<br>活动室</span></div>
<div class="c x34 y24"><span class="m">花岗岩<br>通道</span></div>
<div class="c G x1 y25"><span>松树</span></div>
<div class="c G x2 y25"><span>松树</span></div>
<div class="c G x3 y25"><span>松树</span></div>
<div class="c G x4 y25"><span>松树</span></div>
<div class="c G x5 y25"><span>松树</span></div>
<div class="c x6 y25"><span class="m">花岗岩<br>通道</span></div>
<div class="c L x7 y25 w2 h2"><span class="m">1年级教室<br>1-3</span></div>
<div class="c O x9 y25 w2"><span>学生会室</span></div>
<div class="c x11 y25"><span class="m">花岗岩<br>通道</span></div>
<div class="c G x14 y25"><span>樱树</span></div>
<div class="c O x15 y25 w2 h2"><span>书法室</span></div>
<div class="c x17 y25"><span class="m">石板<br>通道</span></div>
<div class="c x18 y25"><span class="m">石板<br>通道</span></div>
<div class="c D x19 y25"><span class="m">农作物<br>番茄</span></div>
<div class="c D x20 y25"><span class="m">农作物<br>葱</span></div>
<div class="c G x21 y25"><span>金木犀</span></div>
<div class="c x24 y25"><span class="m">花岗岩<br>通道</span></div>
<div class="c G x25 y25"><span>樱树</span></div>
<div class="c G x26 y25"><span>樱树</span></div>
<div class="c L x27 y25 w2 h2"><span class="m">2年级教室<br>2-3</span></div>
<div class="c x29 y25"><span class="m">绒毯<br>走廊</span></div>
<div class="c x34 y25"><span class="m">花岗岩<br>通道</span></div>
<div class="c G x1 y26"><span>松树</span></div>
<div class="c G x2 y26"><span>松树</span></div>
<div class="c O x3 y26 w2 h2"><span>第二体育馆</span></div>
<div class="c G x5 y26"><span>松树</span></div>
<div class="c x6 y26"><span class="m">花岗岩<br>通道</span></div>
<div class="c G x9 y26"><span>竹林</span></div>
<div class="c O x10 y26"><span>广播室</span></div>
<div class="c x11 y26"><span class="m">花岗岩<br>通道</span></div>
<div class="c O x12 y26 w2 h2"><span>烹饪室</span></div>
<div class="c G x14 y26"><span>金木犀</span></div>
<div class="c x17 y26"><span class="m">石板<br>通道</span></div>
<div class="c x18 y26"><span class="m">石板<br>通道</span></div>
<div class="c x19 y26"><span class="m">花岗岩<br>通道</span></div>
<div class="c x20 y26"><span class="m">花岗岩<br>通道</span></div>
<div class="c x21 y26"><span class="m">花岗岩<br>通道</span></div>
<div class="c x22 y26"><span class="m">花岗岩<br>通道</span></div>
<div class="c x23 y26"><span class="m">花岗岩<br>通道</span></div>
<div class="c x24 y26"><span class="m">花岗岩<br>通道</span></div>
<div class="c O x25 y26"><span class="m">学生<br>指导室</span></div>
<div class="c G x26 y26"><span>金木犀</span></div>
<div class="c x29 y26"><span class="m">绒毯<br>走廊</span></div>
<div class="c x30 y26"><span class="m">木制<br>走廊</span></div>
<div class="c x31 y26"><span class="m">木制<br>走廊</span></div>
<div class="c x32 y26"><span class="m">木制<br>走廊</span></div>
<div class="c x33 y26"><span class="m">木制<br>走廊</span></div>
<div class="c x34 y26"><span class="m">花岗岩<br>通道</span></div>
<div class="c G x1 y27"><span>松树</span></div>
<div class="c G x2 y27"><span>松树</span></div>
<div class="c x5 y27"><span>草坪</span></div>
<div class="c x6 y27"><span class="m">花岗岩<br>通道</span></div>
<div class="c L x7 y27 w2 h2"><span class="m">1年级教室<br>1-2</span></div>
<div class="c O x9 y27 w2 h2"><span>多功能室</span></div>
<div class="c x11 y27"><span class="m">花岗岩<br>通道</span></div>
<div class="c G x14 y27"><span>金木犀</span></div>
<div class="c O x15 y27 w2 h2"><span>食堂</span></div>
<div class="c x17 y27"><span class="m">石板<br>通道</span></div>
<div class="c x18 y27"><span class="m">石板<br>通道</span></div>
<div class="c O x19 y27 w2 h2"><span>理科教室</span></div>
<div class="c O x21 y27"><span>百叶箱</span></div>
<div class="c D x22 y27"><span class="m">饲养屋<br>矮脚鸡</span></div>
<div class="c O x23 y27"><span>告示板</span></div>
<div class="c x24 y27"><span class="m">花岗岩<br>通道</span></div>
<div class="c O x25 y27"><span>广播室</span></div>
<div class="c G x26 y27"><span>金木犀</span></div>
<div class="c L x27 y27 w2 h2"><span class="m">2年级教室<br>2-2</span></div>
<div class="c x29 y27"><span class="m">绒毯<br>走廊</span></div>
<div class="c D x30 y27"><span class="m">饲养屋<br>马</span></div>
<div class="c O x31 y27"><span>商店</span></div>
<div class="c E x32 y27 w2 h2"><span class="m">篮球社<br>活动室</span></div>
<div class="c x34 y27"><span class="m">花岗岩<br>通道</span></div>
<div class="c G x1 y28"><span>松树</span></div>
<div class="c G x2 y28"><span>松树</span></div>
<div class="c G x3 y28"><span>花坛</span></div>
<div class="c O x4 y28 h2"><span class="m">体育<br>仓库</span></div>
<div class="c x5 y28"><span>草坪</span></div>
<div class="c x6 y28"><span class="m">花岗岩<br>通道</span></div>
<div class="c x11 y28"><span class="m">花岗岩<br>通道</span></div>
<div class="c O x12 y28"><span class="m">音乐<br>准备室</span></div>
<div class="c G x13 y28"><span>竹林</span></div>
<div class="c G x14 y28"><span>金木犀</span></div>
<div class="c x17 y28"><span class="m">石板<br>通道</span></div>
<div class="c x18 y28"><span class="m">石板<br>通道</span></div>
<div class="c O x21 y28"><span class="m">数学<br>准备室</span></div>
<div class="c O x22 y28"><span class="m">理科<br>准备室</span></div>
<div class="c O x23 y28"><span class="m">社会<br>准备室</span></div>
<div class="c x24 y28"><span class="m">花岗岩<br>通道</span></div>
<div class="c O x25 y28 w2"><span>学生会室</span></div>
<div class="c x29 y28"><span class="m">绒毯<br>走廊</span></div>
<div class="c O x30 y28 w2"><span>弓道场</span></div>
<div class="c x34 y28"><span class="m">花岗岩<br>通道</span></div>
<div class="c G x1 y29"><span>樱树</span></div>
<div class="c G x2 y29"><span>樱树</span></div>
<div class="c G x3 y29"><span>花坛</span></div>
<div class="c x5 y29"><span>草坪</span></div>
<div class="c x6 y29"><span class="m">花岗岩<br>通道</span></div>
<div class="c L x7 y29 w2 h2"><span class="m">1年级教室<br>1-1</span></div>
<div class="c O x9 y29 w2 h2"><span>家务课教室</span></div>
<div class="c x11 y29"><span class="m">花岗岩<br>通道</span></div>
<div class="c O x12 y29"><span>茶室</span></div>
<div class="c G x13 y29"><span>三色堇</span></div>
<div class="c G x14 y29"><span>金木犀</span></div>
<div class="c G x15 y29"><span>紫丁香</span></div>
<div class="c D x16 y29"><span class="m">饲养屋<br>猪</span></div>
<div class="c x17 y29"><span class="m">石板<br>通道</span></div>
<div class="c x18 y29"><span class="m">石板<br>通道</span></div>
<div class="c x19 y29"><span class="m">花岗岩<br>通道</span></div>
<div class="c x20 y29"><span class="m">花岗岩<br>通道</span></div>
<div class="c x21 y29"><span class="m">花岗岩<br>通道</span></div>
<div class="c x22 y29"><span class="m">花岗岩<br>通道</span></div>
<div class="c x23 y29"><span class="m">花岗岩<br>通道</span></div>
<div class="c x24 y29"><span class="m">花岗岩<br>通道</span></div>
<div class="c O x25 y29 w2 h2"><span>多功能室</span></div>
<div class="c L x27 y29 w2 h2"><span class="m">2年级教室<br>2-1</span></div>
<div class="c x29 y29"><span class="m">绒毯<br>走廊</span></div>
<div class="c O x30 y29 w2 h2"><span>道场</span></div>
<div class="c E x32 y29 w2 h2"><span class="m">剑道社<br>活动室</span></div>
<div class="c x34 y29"><span class="m">花岗岩<br>通道</span></div>
<div class="c G x1 y30"><span>樱树</span></div>
<div class="c G x2 y30"><span>樱树</span></div>
<div class="c O x3 y30 w2 h2"><span>体育馆</span></div>
<div class="c x5 y30"><span>草坪</span></div>
<div class="c x6 y30"><span class="m">花岗岩<br>通道</span></div>
<div class="c x11 y30"><span class="m">花岗岩<br>通道</span></div>
<div class="c G x12 y30"><span>三色堇</span></div>
<div class="c G x13 y30"><span>三色堇</span></div>
<div class="c G x14 y30"><span>金木犀</span></div>
<div class="c O x15 y30 w2 h2"><span>供餐室</span></div>
<div class="c x17 y30"><span class="m">石板<br>通道</span></div>
<div class="c x18 y30"><span class="m">石板<br>通道</span></div>
<div class="c O x19 y30 w2 h2"><span>音乐室</span></div>
<div class="c G x21 y30"><span>三色堇</span></div>
<div class="c D x22 y30"><span class="m">农作物<br>橘子</span></div>
<div class="c O x23 y30"><span class="m">音乐<br>准备室</span></div>
<div class="c x24 y30"><span class="m">花岗岩<br>通道</span></div>
<div class="c x29 y30"><span class="m">绒毯<br>走廊</span></div>
<div class="c x34 y30"><span class="m">花岗岩<br>通道</span></div>
<div class="c G x1 y31"><span>樱树</span></div>
<div class="c G x2 y31"><span>樱树</span></div>
<div class="c G x5 y31"><span>樱树</span></div>
<div class="c x6 y31"><span class="m">花岗岩<br>通道</span></div>
<div class="c G x7 y31"><span>花坛</span></div>
<div class="c G x8 y31"><span>三色堇</span></div>
<div class="c G x9 y31"><span>三色堇</span></div>
<div class="c D x10 y31"><span class="m">农作物<br>橘子</span></div>
<div class="c x11 y31"><span class="m">花岗岩<br>通道</span></div>
<div class="c O x12 y31 w2"><span>乒乓台</span></div>
<div class="c G x14 y31"><span>金木犀</span></div>
<div class="c x17 y31"><span class="m">石板<br>通道</span></div>
<div class="c x18 y31"><span class="m">石板<br>通道</span></div>
<div class="c G x21 y31"><span>油菜花</span></div>
<div class="c O x22 y31 w2"><span>乒乓台</span></div>
<div class="c x24 y31"><span class="m">花岗岩<br>通道</span></div>
<div class="c O x25 y31 w2 h2"><span>烹饪室</span></div>
<div class="c O x27 y31 w2 h2"><span>书法室</span></div>
<div class="c x29 y31"><span class="m">绒毯<br>走廊</span></div>
<div class="c O x30 y31 w2 h2"><span>食堂</span></div>
<div class="c E x32 y31 w2 h2"><span class="m">将棋社<br>活动室</span></div>
<div class="c x34 y31"><span class="m">花岗岩<br>通道</span></div>
<div class="c G x1 y32"><span>樱树</span></div>
<div class="c G x2 y32"><span>樱树</span></div>
<div class="c G x3 y32"><span>花坛</span></div>
<div class="c G x4 y32"><span>花坛</span></div>
<div class="c G x5 y32"><span>樱树</span></div>
<div class="c x6 y32"><span class="m">花岗岩<br>通道</span></div>
<div class="c G x7 y32"><span>花坛</span></div>
<div class="c G x8 y32"><span>油菜花</span></div>
<div class="c G x9 y32"><span>油菜花</span></div>
<div class="c G x10 y32"><span>向日葵</span></div>
<div class="c x11 y32"><span class="m">花岗岩<br>通道</span></div>
<div class="c G x12 y32"><span>三色堇</span></div>
<div class="c G x13 y32"><span>三色堇</span></div>
<div class="c G x14 y32"><span>金木犀</span></div>
<div class="c G x15 y32"><span>紫丁香</span></div>
<div class="c G x16 y32"><span>椰树</span></div>
<div class="c x17 y32"><span class="m">石板<br>通道</span></div>
<div class="c x18 y32"><span class="m">石板<br>通道</span></div>
<div class="c O x19 y32 w2 h2"><span>技术室</span></div>
<div class="c G x21 y32"><span>三色堇</span></div>
<div class="c O x22 y32 w2 h2"><span>家务课教室</span></div>
<div class="c x24 y32"><span class="m">花岗岩<br>通道</span></div>
<div class="c x29 y32"><span class="m">绒毯<br>走廊</span></div>
<div class="c x34 y32"><span class="m">花岗岩<br>通道</span></div>
<div class="c G x1 y33"><span>樱树</span></div>
<div class="c G x2 y33"><span>樱树</span></div>
<div class="c G x3 y33"><span>樱树</span></div>
<div class="c G x4 y33"><span>樱树</span></div>
<div class="c G x5 y33"><span>樱树</span></div>
<div class="c x6 y33"><span class="m">花岗岩<br>通道</span></div>
<div class="c G x7 y33"><span>向日葵</span></div>
<div class="c G x8 y33"><span>三色堇</span></div>
<div class="c G x9 y33"><span>三色堇</span></div>
<div class="c G x10 y33"><span>向日葵</span></div>
<div class="c x11 y33"><span class="m">花岗岩<br>通道</span></div>
<div class="c O x12 y33 w2 h2"><span>游泳池</span></div>
<div class="c G x14 y33"><span>金木犀</span></div>
<div class="c G x15 y33"><span>紫丁香</span></div>
<div class="c G x16 y33"><span>椰树</span></div>
<div class="c x17 y33"><span class="m">石板<br>通道</span></div>
<div class="c x18 y33"><span class="m">石板<br>通道</span></div>
<div class="c O x21 y33"><span>卫生间</span></div>
<div class="c x24 y33"><span class="m">花岗岩<br>通道</span></div>
<div class="c O x25 y33"><span>茶室</span></div>
<div class="c G x26 y33"><span>竹林</span></div>
<div class="c O x27 y33 w2 h2"><span>供餐室</span></div>
<div class="c x29 y33"><span class="m">绒毯<br>走廊</span></div>
<div class="c G x30 y33"><span>金木犀</span></div>
<div class="c G x31 y33"><span>紫丁香</span></div>
<div class="c E x32 y33 w2 h2"><span class="m">茶道社<br>活动室</span></div>
<div class="c x34 y33"><span class="m">花岗岩<br>通道</span></div>
<div class="c G x1 y34"><span>绣球花</span></div>
<div class="c O x2 y34 w2"><span>停车场</span></div>
<div class="c O x4 y34"><span>警卫室</span></div>
<div class="c G x5 y34"><span>绣球花</span></div>
<div class="c x6 y34"><span class="m">花岗岩<br>通道</span></div>
<div class="c G x7 y34"><span>向日葵</span></div>
<div class="c G x8 y34"><span>向日葵</span></div>
<div class="c O x9 y34 w2"><span>游戏区</span></div>
<div class="c x11 y34"><span class="m">花岗岩<br>通道</span></div>
<div class="c D x14 y34"><span class="m">农作物<br>香蕉</span></div>
<div class="c G x15 y34"><span>椰树</span></div>
<div class="c G x16 y34"><span>椰树</span></div>
<div class="c x17 y34"><span class="m">石板<br>通道</span></div>
<div class="c x18 y34"><span class="m">石板<br>通道</span></div>
<div class="c G x19 y34"><span>小树</span></div>
<div class="c O x20 y34"><span>长椅</span></div>
<div class="c x21 y34"><span class="m">外部<br>通道</span></div>
<div class="c O x22 y34"><span>焚烧场</span></div>
<div class="c D x23 y34"><span class="m">饲养屋<br>鳄鱼</span></div>
<div class="c x24 y34"><span class="m">花岗岩<br>通道</span></div>
<div class="c G x25 y34"><span>竹林</span></div>
<div class="c G x26 y34"><span>竹林</span></div>
<div class="c x29 y34"><span class="m">绒毯<br>走廊</span></div>
<div class="c D x30 y34"><span class="m">饲养屋<br>猪</span></div>
<div class="c G x31 y34"><span>紫丁香</span></div>
<div class="c x34 y34"><span class="m">花岗岩<br>通道</span></div>
<div class="c x1 y35"><span class="m">花岗岩<br>通道</span></div>
<div class="c x2 y35"><span class="m">花岗岩<br>通道</span></div>
<div class="c x3 y35"><span class="m">花岗岩<br>通道</span></div>
<div class="c x4 y35"><span class="m">花岗岩<br>通道</span></div>
<div class="c x5 y35"><span class="m">花岗岩<br>通道</span></div>
<div class="c x6 y35"><span class="m">花岗岩<br>通道</span></div>
<div class="c x7 y35"><span class="m">花岗岩<br>通道</span></div>
<div class="c x8 y35"><span class="m">花岗岩<br>通道</span></div>
<div class="c x9 y35"><span class="m">花岗岩<br>通道</span></div>
<div class="c x10 y35"><span class="m">花岗岩<br>通道</span></div>
<div class="c x11 y35"><span class="m">花岗岩<br>通道</span></div>
<div class="c x12 y35"><span class="m">花岗岩<br>通道</span></div>
<div class="c x13 y35"><span class="m">花岗岩<br>通道</span></div>
<div class="c x14 y35"><span class="m">花岗岩<br>通道</span></div>
<div class="c x15 y35"><span class="m">花岗岩<br>通道</span></div>
<div class="c x16 y35"><span class="m">花岗岩<br>通道</span></div>
<div class="c x17 y35"><span class="m">石板<br>通道</span></div>
<div class="c x18 y35"><span class="m">石板<br>通道</span></div>
<div class="c x19 y35"><span class="m">花岗岩<br>通道</span></div>
<div class="c x20 y35"><span class="m">花岗岩<br>通道</span></div>
<div class="c x21 y35"><span class="m">花岗岩<br>通道</span></div>
<div class="c x22 y35"><span class="m">花岗岩<br>通道</span></div>
<div class="c x23 y35"><span class="m">花岗岩<br>通道</span></div>
<div class="c x24 y35"><span class="m">花岗岩<br>通道</span></div>
<div class="c x25 y35"><span class="m">花岗岩<br>通道</span></div>
<div class="c x26 y35"><span class="m">花岗岩<br>通道</span></div>
<div class="c x27 y35"><span class="m">花岗岩<br>通道</span></div>
<div class="c x28 y35"><span class="m">花岗岩<br>通道</span></div>
<div class="c x29 y35"><span class="m">花岗岩<br>通道</span></div>
<div class="c x30 y35"><span class="m">花岗岩<br>通道</span></div>
<div class="c x31 y35"><span class="m">花岗岩<br>通道</span></div>
<div class="c x32 y35"><span class="m">花岗岩<br>通道</span></div>
<div class="c x33 y35"><span class="m">花岗岩<br>通道</span></div>
<div class="c x34 y35"><span class="m">花岗岩<br>通道</span></div>
<div class="f"></div>
<div class="wm" style="left:149.5px;top:9.2px">c水饺c</div>
<div class="wm" style="left:646.0px;top:9.2px">c水饺c</div>
<div class="wm" style="left:1142.5px;top:9.2px">c水饺c</div>
<div class="wm" style="left:1639.0px;top:9.2px">c水饺c</div>
<div class="wm" style="left:2135.5px;top:9.2px">c水饺c</div>
<div class="wm" style="left:2632.0px;top:9.2px">c水饺c</div>
<div class="wm" style="left:3128.5px;top:9.2px">c水饺c</div>
<div class="wm" style="left:149.5px;top:434.5px">c水饺c</div>
<div class="wm" style="left:646.0px;top:434.5px">c水饺c</div>
<div class="wm" style="left:1142.5px;top:434.5px">c水饺c</div>
<div class="wm" style="left:1639.0px;top:434.5px">c水饺c</div>
<div class="wm" style="left:2135.5px;top:434.5px">c水饺c</div>
<div class="wm" style="left:2632.0px;top:434.5px">c水饺c</div>
<div class="wm" style="left:3128.5px;top:434.5px">c水饺c</div>
<div class="wm" style="left:149.5px;top:859.8px">c水饺c</div>
<div class="wm" style="left:646.0px;top:859.8px">c水饺c</div>
<div class="wm" style="left:1142.5px;top:859.8px">c水饺c</div>
<div class="wm" style="left:1639.0px;top:859.8px">c水饺c</div>
<div class="wm" style="left:2135.5px;top:859.8px">c水饺c</div>
<div class="wm" style="left:2632.0px;top:859.8px">c水饺c</div>
<div class="wm" style="left:3128.5px;top:859.8px">c水饺c</div>
<div class="wm" style="left:149.5px;top:1285.1px">c水饺c</div>
<div class="wm" style="left:646.0px;top:1285.1px">c水饺c</div>
<div class="wm" style="left:1142.5px;top:1285.1px">c水饺c</div>
<div class="wm" style="left:1639.0px;top:1285.1px">c水饺c</div>
<div class="wm" style="left:2135.5px;top:1285.1px">c水饺c</div>
<div class="wm" style="left:2632.0px;top:1285.1px">c水饺c</div>
<div class="wm" style="left:3128.5px;top:1285.1px">c水饺c</div>
<div class="wm" style="left:149.5px;top:1710.4px">c水饺c</div>
<div class="wm" style="left:646.0px;top:1710.4px">c水饺c</div>
<div class="wm" style="left:1142.5px;top:1710.4px">c水饺c</div>
<div class="wm" style="left:1639.0px;top:1710.4px">c水饺c</div>
<div class="wm" style="left:2135.5px;top:1710.4px">c水饺c</div>
<div class="wm" style="left:2632.0px;top:1710.4px">c水饺c</div>
<div class="wm" style="left:3128.5px;top:1710.4px">c水饺c</div>
<div class="wm" style="left:149.5px;top:2135.7px">c水饺c</div>
<div class="wm" style="left:646.0px;top:2135.7px">c水饺c</div>
<div class="wm" style="left:1142.5px;top:2135.7px">c水饺c</div>
<div class="wm" style="left:1639.0px;top:2135.7px">c水饺c</div>
<div class="wm" style="left:2135.5px;top:2135.7px">c水饺c</div>
<div class="wm" style="left:2632.0px;top:2135.7px">c水饺c</div>
<div class="wm" style="left:3128.5px;top:2135.7px">c水饺c</div>
<div class="wm" style="left:149.5px;top:2561.0px">c水饺c</div>
<div class="wm" style="left:646.0px;top:2561.0px">c水饺c</div>
<div class="wm" style="left:1142.5px;top:2561.0px">c水饺c</div>
<div class="wm" style="left:1639.0px;top:2561.0px">c水饺c</div>
<div class="wm" style="left:2135.5px;top:2561.0px">c水饺c</div>
<div class="wm" style="left:2632.0px;top:2561.0px">c水饺c</div>
<div class="wm" style="left:3128.5px;top:2561.0px">c水饺c</div>
<div class="wm" style="left:149.5px;top:2986.3px">c水饺c</div>
<div class="wm" style="left:646.0px;top:2986.3px">c水饺c</div>
<div class="wm" style="left:1142.5px;top:2986.3px">c水饺c</div>
<div class="wm" style="left:1639.0px;top:2986.3px">c水饺c</div>
<div class="wm" style="left:2135.5px;top:2986.3px">c水饺c</div>
<div class="wm" style="left:2632.0px;top:2986.3px">c水饺c</div>
<div class="wm" style="left:3128.5px;top:2986.3px">c水饺c</div>
</div>
</body></html>
